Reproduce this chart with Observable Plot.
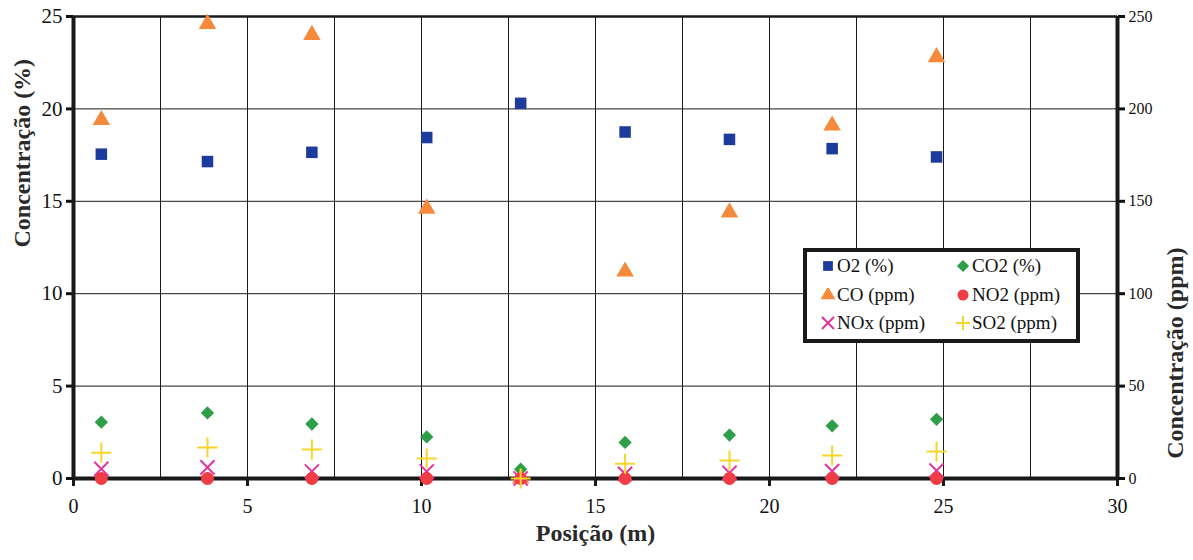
<!DOCTYPE html>
<html>
<head>
<meta charset="utf-8">
<script src="https://cdn.jsdelivr.net/npm/d3@7"></script>
<script src="https://cdn.jsdelivr.net/npm/@observablehq/plot@0.6"></script>
<style>
  body { margin: 0; background: white; }
  #wrap { position: relative; width: 1193px; height: 560px; font-family: "Liberation Serif", "Times New Roman", Times, "DejaVu Serif", serif; }
  #wrap svg text { font-family: "Liberation Serif", "Times New Roman", Times, "DejaVu Serif", serif; }
  #legend { position: absolute; left: 803px; top: 248px; width: 269px; height: 87px; border: 4px solid #1a1a1a; background: white; box-sizing: content-box; }
  .item { position: absolute; font-size: 19px; color: #111; display: flex; align-items: center; white-space: nowrap; font-family: "Liberation Serif", "Times New Roman", Times, "DejaVu Serif", serif; }
  .item svg { margin-right: 2px; }
</style>
</head>
<body>
<div id="wrap"></div>
<script>
// Data
const positions = [0.8, 3.85, 6.85, 10.15, 12.85, 15.85, 18.85, 21.8, 24.8];
const o2  = [17.55, 17.15, 17.65, 18.45, 20.3, 18.75, 18.35, 17.85, 17.4];   // %
const co2 = [3.05, 3.55, 2.95, 2.25, 0.5, 1.95, 2.35, 2.85, 3.2];             // %
const co  = [194, 246, 240, 146, 0, 112, 144, 191, 228];                      // ppm
const no2 = [0, 0, 0, 0, 0, 0, 0, 0, 0];                                      // ppm
const nox = [5.2, 6.0, 3.8, 3.8, 0, 2.5, 3.1, 4.0, 4.3];                      // ppm
const so2 = [14, 16.8, 15.7, 10.8, 0, 8, 9.7, 12.4, 14.6];                    // ppm

const xTicks = [0, 5, 10, 15, 20, 25, 30];
const yTicksPct = [0, 5, 10, 15, 20, 25];
const yTicksPpm = [0, 50, 100, 150, 200, 250];

const seriesDefs = [
  {name: "O2 (%)",    values: o2,  unit: "%",   symbol: "square",   fill: "#1c3b9c", stroke: "none", r: 6.5},
  {name: "CO2 (%)",   values: co2, unit: "%",   symbol: "diamond2", fill: "#2e9e48", stroke: "none", r: 6},
  {name: "CO (ppm)",  values: co,  unit: "ppm", symbol: "triangle", fill: "#f58a3c", stroke: "none", r: 6.5},
  {name: "NOx (ppm)", values: nox, unit: "ppm", symbol: "times",    fill: "none",    stroke: "#e0359e", r: 6.5},
  {name: "NO2 (ppm)", values: no2, unit: "ppm", symbol: "circle",   fill: "#f03c44", stroke: "none", r: 6.5},
  {name: "SO2 (ppm)", values: so2, unit: "ppm", symbol: "plus",     fill: "none",    stroke: "#f7d52a", r: 6.5}
];

const rows = seriesDefs.flatMap(s => positions.map((x, i) => ({series: s.name, x, value: s.values[i], unit: s.unit})));
const yVal = d => d.unit === "%" ? d.value : d.value / 10;

const dotMarks = seriesDefs.map(s => Plot.dot(rows.filter(d => d.series === s.name), {
  x: "x", y: yVal, symbol: () => s.symbol, fill: s.fill, stroke: s.stroke, strokeWidth: 2, r: s.r
}));

const FONT = '"Liberation Serif", "Times New Roman", Times, "DejaVu Serif", serif';

const chart = Plot.plot({
  width: 1193, height: 560,
  marginLeft: 73, marginRight: 76, marginTop: 16, marginBottom: 82,
  style: {fontFamily: FONT, background: "white", color: "#111", overflow: "visible"},
  x: {domain: [0, 30]},
  y: {domain: [0, 25]},
  symbol: {type: "identity"},
  marks: [
    Plot.gridX(d3.range(2.5, 30, 2.5), {stroke: "#1a1a1a", strokeOpacity: 1, strokeWidth: 1}),
    Plot.gridY([5, 10, 15, 20], {stroke: "#1a1a1a", strokeOpacity: 1, strokeWidth: 1}),
    Plot.axisX({ticks: xTicks, tickSize: 8, tickPadding: 12, fontSize: 20, label: null, stroke: "#1a1a1a", strokeWidth: 3}),
    Plot.axisY({anchor: "left", ticks: yTicksPct, tickSize: 7, tickPadding: 4, fontSize: 21, label: null, strokeWidth: 3}),
    Plot.axisY({anchor: "right", ticks: yTicksPpm.map(v => v / 10), tickFormat: d => String(d * 10), tickSize: 7, tickPadding: 4, fontSize: 16, label: null, strokeWidth: 3}),
    Plot.ruleY([25], {stroke: "#1a1a1a", strokeWidth: 2.5}),
    Plot.ruleX([0], {stroke: "#1a1a1a", strokeWidth: 4}),
    Plot.ruleX([30], {stroke: "#1a1a1a", strokeWidth: 4}),
    Plot.ruleY([0], {stroke: "#1a1a1a", strokeWidth: 4}),
    ...dotMarks,
    Plot.text(["Posição (m)"], {frameAnchor: "bottom", dy: 62, fontSize: 24, fontWeight: "bold", fill: "#2a2a2a"}),
    Plot.text(["Concentração (%)"], {frameAnchor: "left", rotate: -90, dx: -51, fontSize: 24, fontWeight: "bold", fill: "#2a2a2a"}),
    Plot.text(["Concentração (ppm)"], {frameAnchor: "right", rotate: -90, dx: 58, fontSize: 24, fontWeight: "bold", fill: "#2a2a2a"})
  ]
});

const wrap = document.getElementById("wrap");
wrap.appendChild(chart);

// Legend (overlay box inside the plot area)
const legend = document.createElement("div");
legend.id = "legend";
wrap.appendChild(legend);
const legendOrder = ["O2 (%)", "CO2 (%)", "CO (ppm)", "NO2 (ppm)", "NOx (ppm)", "SO2 (ppm)"];
const symMap = {square: d3.symbolSquare, diamond2: d3.symbolDiamond2, triangle: d3.symbolTriangle, times: d3.symbolTimes, circle: d3.symbolCircle, plus: d3.symbolPlus};
legendOrder.forEach((name, i) => {
  const s = seriesDefs.find(d => d.name === name);
  const col = i % 2, row = Math.floor(i / 2);
  const item = document.createElement("div");
  item.className = "item";
  item.style.left = (col === 0 ? 14 : 149) + "px";
  item.style.top = (3 + row * 28.5) + "px";
  const size = 14;
  const path = d3.symbol(symMap[s.symbol], Math.PI * 5.5 * 5.5)();
  item.innerHTML = `<svg width="${size}" height="${size}" viewBox="${-size/2} ${-size/2} ${size} ${size}"><path d="${path}" fill="${s.fill}" stroke="${s.stroke}" stroke-width="2"></path></svg><span>${name}</span>`;
  legend.appendChild(item);
});
</script>
</body>
</html>
